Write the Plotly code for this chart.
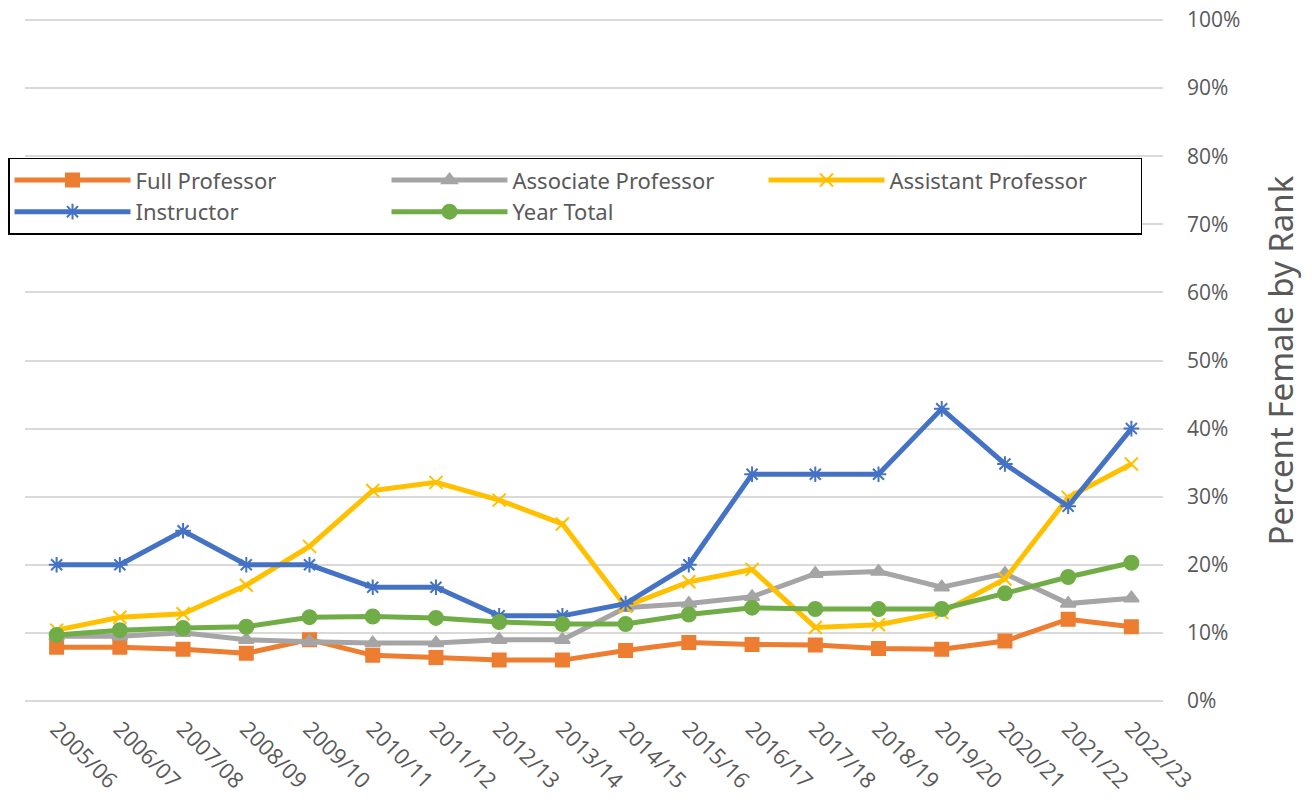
import plotly.graph_objects as go

years = ["2005/06", "2006/07", "2007/08", "2008/09", "2009/10", "2010/11",
         "2011/12", "2012/13", "2013/14", "2014/15", "2015/16", "2016/17",
         "2017/18", "2018/19", "2019/20", "2020/21", "2021/22", "2022/23"]

full_prof = [7.9, 7.9, 7.6, 7.0, 9.0, 6.7, 6.4, 6.0, 6.0, 7.4, 8.6, 8.3,
             8.2, 7.7, 7.6, 8.8, 12.0, 10.9]
assoc_prof = [9.5, 9.5, 10.0, 9.0, 8.7, 8.5, 8.5, 9.0, 9.0, 13.7, 14.3, 15.3,
              18.7, 19.0, 16.7, 18.7, 14.3, 15.1]
asst_prof = [10.4, 12.3, 12.8, 17.0, 22.7, 30.9, 32.1, 29.5, 26.0, 13.9, 17.5, 19.3,
             10.8, 11.2, 13.0, 17.9, 29.9, 34.8]
instructor = [20.0, 20.0, 25.0, 20.0, 20.0, 16.7, 16.7, 12.5, 12.5, 14.3, 20.0, 33.3,
              33.3, 33.3, 42.9, 34.8, 28.6, 40.0]
year_total = [9.7, 10.4, 10.7, 10.9, 12.3, 12.4, 12.2, 11.6, 11.3, 11.3, 12.7, 13.7,
              13.5, 13.5, 13.5, 15.8, 18.2, 20.3]

series = [
    ("Full Professor", full_prof, "#ED7D31", "square", 13),
    ("Associate Professor", assoc_prof, "#A5A5A5", "triangle-up", 13),
    ("Assistant Professor", asst_prof, "#FFC000", "x-thin-open", 13),
    ("Instructor", instructor, "#4472C4", "asterisk-open", 13),
    ("Year Total", year_total, "#70AD47", "circle", 14),
]

fig = go.Figure()
for name, vals, color, symbol, size in series:
    fig.add_trace(go.Scatter(
        x=years,
        y=[v / 100 for v in vals],
        mode="lines+markers",
        name=name,
        line=dict(color=color, width=5),
        marker=dict(symbol=symbol, size=size, color=color,
                    line=dict(color=color, width=2)),
    ))

# page has an 8px body margin, so the figure is 1304x792 and everything is
# placed 8px up/left of where it shows on the page
fig.update_layout(
    width=1304,
    height=792,
    paper_bgcolor="white",
    plot_bgcolor="white",
    margin=dict(l=0, r=149, t=10, b=97),
    font=dict(family="Open Sans", color="#595959"),
    showlegend=True,
    legend=dict(
        orientation="h",
        x=0, xanchor="left",
        y=0.796, yanchor="top",
        entrywidth=246,
        entrywidthmode="pixels",
        itemwidth=116,
        bordercolor="black",
        borderwidth=1.5,
        bgcolor="white",
        font=dict(family="Noto Sans", size=22, color="#595959"),
    ),
    xaxis=dict(
        type="category",
        domain=[17 / 1155, 1],
        range=[-0.5, 17.5],
        tickangle=45,
        tickfont=dict(size=22, color="#595959"),
        ticklabelstandoff=8,
        showgrid=False,
        showline=False,
        ticks="",
        automargin=False,
    ),
    yaxis=dict(
        side="right",
        range=[-0.003, 1.003],
        tickvals=[i / 10 for i in range(11)],
        tickformat=".0%",
        tickfont=dict(size=21, color="#595959"),
        ticklabeloverflow="allow",
        gridcolor="#D9D9D9",
        gridwidth=1.5,
        zeroline=False,
        showline=False,
        ticklabelstandoff=23,
        automargin=False,
        title=dict(text="Percent Female by Rank", standoff=30,
                   font=dict(family="Noto Sans", size=33, color="#595959")),
    ),
)

fig.write_html("out.html")
